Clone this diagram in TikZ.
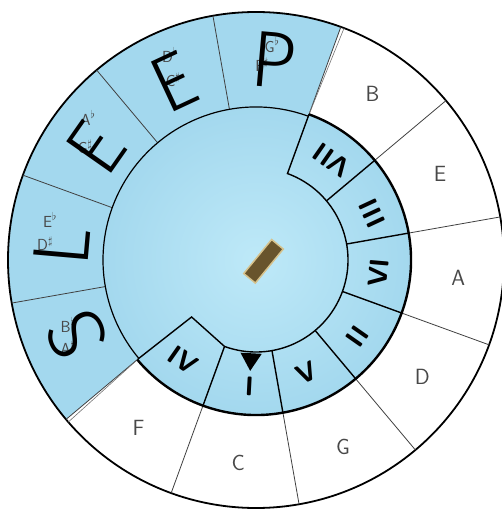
\documentclass[tikz,border=0pt]{standalone}
\usepackage{fontspec}
\newfontfamily\markerfont{Fira Sans Light}
\definecolor{paperblue}{RGB}{163,216,238}
\definecolor{diskblue}{RGB}{190,233,248}
\definecolor{pencil}{RGB}{72,72,72}
\definecolor{rivetbrown}{RGB}{104,84,44}
\definecolor{rivetgold}{RGB}{214,194,140}
\tikzset{
  note/.style={text=pencil, inner sep=0pt, font=\sffamily\fontsize{22}{22}\selectfont},
  keyname/.style={text=pencil, inner sep=0pt, font=\sffamily\fontsize{16}{16}\selectfont},
  bigletter/.style={inner sep=0pt, font=\markerfont\fontsize{80}{80}\selectfont},
  numeral/.style={inner sep=0pt, font=\sffamily\bfseries\fontsize{27}{27}\selectfont},
  keyline/.style={draw=black!75, line width=0.8pt},
  tabline/.style={draw=black, line width=1.4pt}
}
\begin{document}
\begin{tikzpicture}[x=1pt, y=1pt]
        \useasboundingbox (-256, -251) rectangle (246, 260);

        \fill[paperblue] (70:150) -- (70:248) arc[start angle=70, end angle=220, radius=248] -- (220:150) -- cycle;
        \shade[inner color=diskblue, outer color=paperblue] (0, 0) circle (155);

        \draw[line width=1.8pt] (0, 0) circle (248);

        \draw[keyline] (70:155) -- (70:248);
        \draw[draw=black!55, line width=0.6pt] (70:155) -- (69.2:248);
        \draw[keyline] (40:155) -- (40:248);
        \draw[keyline] (10:155) -- (10:248);
        \draw[keyline] (-20:155) -- (-20:248);
        \draw[keyline] (-50:155) -- (-50:248);
        \draw[keyline] (-80:155) -- (-80:248);
        \draw[keyline] (-110:155) -- (-110:248);
        \draw[keyline] (220:153) -- (220:248);
        \draw[draw=black!55, line width=0.6pt] (220:153) -- (220.8:248);
        \draw[keyline] (190:153) -- (190:248);
        \draw[keyline] (160:153) -- (160:248);
        \draw[keyline] (130:153) -- (130:248);
        \draw[keyline] (100:153) -- (100:248);

        \draw[line width=1.2pt] (70:153) arc[start angle=70, end angle=220, radius=153];
        \draw[line width=2.4pt] (70:155) arc[start angle=70, end angle=-140, radius=155];
        \draw[tabline] (70:155) -- (70:92) arc[start angle=70, end angle=-110, radius=92] -- (221.5:86) -- (220:154);

        \draw[tabline] (40:92) -- (40:155);
        \draw[tabline] (10:92) -- (10:155);
        \draw[tabline] (-20:92) -- (-20:155);
        \draw[tabline] (-50:92) -- (-50:155);
        \draw[tabline] (-80:92) -- (-80:155);
        \draw[tabline] (-110:92) -- (-110:155);

        \node (n-B) at (55:203) [note] {B};
        \node (n-E) at (25:203) [note] {E};
        \node (n-A) at (-5:203) [note] {A};
        \node (n-D) at (-35:203) [note] {D};
        \node (n-G) at (-65:206) [note] {G};
        \node (n-C) at (-95:204) [note] {C};
        \node (n-F) at (-125:205) [note] {F};

        \node (k-Gb) at (16, 215) [keyname] {G$^\flat$};
        \node (k-Fs) at (6, 195) [keyname] {F$^\sharp$};
        \node (k-Db) at (-86, 205) [keyname] {D$^\flat$};
        \node (k-Cs) at (-83, 180) [keyname] {C$^\sharp$};
        \node (k-Ab) at (-168, 142) [keyname] {A$^\flat$};
        \node (k-Gs) at (-171, 113) [keyname] {G$^\sharp$};
        \node (k-Eb) at (-206, 40) [keyname] {E$^\flat$};
        \node (k-Ds) at (-211, 16) [keyname] {D$^\sharp$};
        \node (k-Bb) at (-188, -65) [keyname] {B$^\flat$};
        \node (k-As) at (-188, -88) [keyname] {A$^\sharp$};

        \node (w-P) at (85:201) [bigletter, rotate=-5] {P};
        \node (w-E1) at (115:196) [bigletter, rotate=25] {E};
        \node (w-E2) at (145:196) [bigletter, rotate=55] {E};
        \node (w-L) at (-194, 13) [bigletter, rotate=85] {L};
        \node (w-S) at (202.5:194) [bigletter, rotate=115] {S};

        \node (r-VII) at (53:125) [numeral, rotate=145] {VII};
        \node (r-III) at (22:125) [numeral, rotate=115] {III};
        \node (r-VI) at (-6:123) [numeral, rotate=85] {VI};
        \node (r-II) at (-37:127) [numeral, rotate=55] {II};
        \node (r-V) at (-66:123) [numeral, rotate=25] {V};
        \node (r-I) at (-93:127) [numeral, rotate=-3] {I};
        \node (r-IV) at (-126:124) [numeral, rotate=-35] {IV};

        \fill (-93:111) -- (-99.5:94) -- (-86.5:94) -- cycle;

        \node (rivet) at (7.5, -1.3) [rectangle, rotate=50.6, minimum width=44pt, minimum height=15pt, fill=rivetbrown, draw=rivetgold, line width=1.5pt] {};

    \end{tikzpicture}
\end{document}
